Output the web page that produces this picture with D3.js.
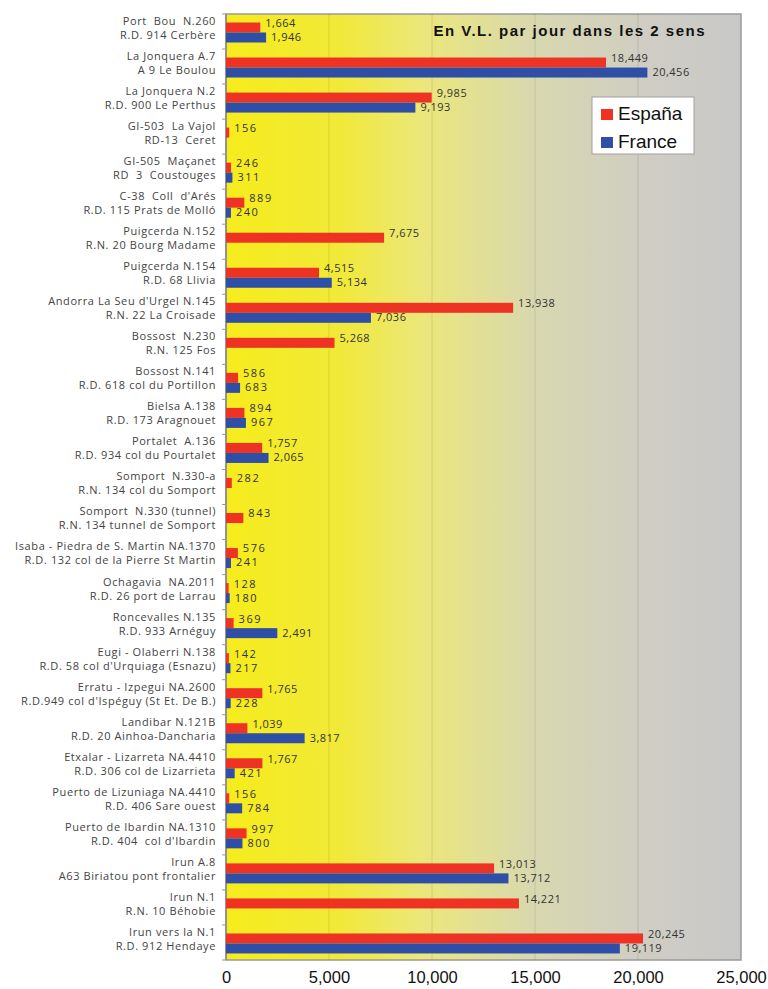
<!DOCTYPE html>
<html>
<head>
<meta charset="utf-8">
<script src="https://cdn.jsdelivr.net/npm/d3@7"></script>
<style>
  body { margin: 0; background: #fff; }
  svg { display: block; }
  text { white-space: pre; }
</style>
</head>
<body>
<svg id="chart"></svg>
<script>
var width = 768, height = 989
var margin = {top: 14, right: 27, bottom: 29, left: 226}

// two text lines per crossing: Spanish side / French side
const crossings = [
  ["Port  Bou  N.260", "R.D. 914 Cerbère"],
  ["La Jonquera A.7", "A 9 Le Boulou"],
  ["La Jonquera N.2", "R.D. 900 Le Perthus"],
  ["GI-503  La Vajol", "RD-13  Ceret"],
  ["GI-505  Maçanet", "RD  3  Coustouges"],
  ["C-38  Coll  d'Arés", "R.D. 115 Prats de Molló"],
  ["Puigcerda N.152", "R.N. 20 Bourg Madame"],
  ["Puigcerda N.154", "R.D. 68 Llivia"],
  ["Andorra La Seu d'Urgel N.145", "R.N. 22 La Croisade"],
  ["Bossost  N.230", "R.N. 125 Fos"],
  ["Bossost N.141", "R.D. 618 col du Portillon"],
  ["Bielsa A.138", "R.D. 173 Aragnouet"],
  ["Portalet  A.136", "R.D. 934 col du Pourtalet"],
  ["Somport  N.330-a", "R.N. 134 col du Somport"],
  ["Somport  N.330 (tunnel)", "R.N. 134 tunnel de Somport"],
  ["Isaba - Piedra de S. Martin NA.1370", "R.D. 132 col de la Pierre St Martin"],
  ["Ochagavia  NA.2011", "R.D. 26 port de Larrau"],
  ["Roncevalles N.135", "R.D. 933 Arnéguy"],
  ["Eugi - Olaberri N.138", "R.D. 58 col d'Urquiaga (Esnazu)"],
  ["Erratu - Izpegui NA.2600", "R.D.949 col d'Ispéguy (St Et. De B.)"],
  ["Landibar N.121B", "R.D. 20 Ainhoa-Dancharia"],
  ["Etxalar - Lizarreta NA.4410", "R.D. 306 col de Lizarrieta"],
  ["Puerto de Lizuniaga NA.4410", "R.D. 406 Sare ouest"],
  ["Puerto de Ibardin NA.1310", "R.D. 404  col d'Ibardin"],
  ["Irun A.8", "A63 Biriatou pont frontalier"],
  ["Irun N.1", "R.N. 10 Béhobie"],
  ["Irun vers la N.1", "R.D. 912 Hendaye"]
]
const espana = [1664, 18449, 9985, 156, 246, 889, 7675, 4515, 13938, 5268, 586, 894, 1757, 282, 843,
  576, 128, 369, 142, 1765, 1039, 1767, 156, 997, 13013, 14221, 20245]
const france = [1946, 20456, 9193, null, 311, 240, null, 5134, 7036, null, 683, 967, 2065, null, null,
  241, 180, 2491, 217, 228, 3817, 421, 784, 800, 13712, null, 19119]
const seriesNames = ["España", "France"]
const seriesColors = ["#ee3324", "#2f4fa6"]
const xTicks = [0, 5000, 10000, 15000, 20000, 25000]
const title = "En V.L. par jour dans les 2 sens"

document.addEventListener('DOMContentLoaded', function () {
    var svg = d3.select("#chart").attr("width", width).attr("height", height)

    var x = d3.scaleLinear().domain([0, 25000]).range([margin.left, width - margin.right])
    var y = d3.scaleBand().domain(d3.range(crossings.length)).range([margin.top, height - margin.bottom])
    var ySub = d3.scaleBand().domain(seriesNames).range([8.5, 28.5])

    // background gradient yellow -> gray
    var grad = svg.append("defs").append("linearGradient").attr("id", "bg")
        .attr("x1", "0%").attr("x2", "100%").attr("y1", "0%").attr("y2", "0%")
    grad.append("stop").attr("offset", "0%").attr("stop-color", "#f6ec1c")
    grad.append("stop").attr("offset", "22%").attr("stop-color", "#f1e938")
    grad.append("stop").attr("offset", "38%").attr("stop-color", "#ebe77a")
    grad.append("stop").attr("offset", "60%").attr("stop-color", "#d8d8b0")
    grad.append("stop").attr("offset", "82%").attr("stop-color", "#cfcdc3")
    grad.append("stop").attr("offset", "100%").attr("stop-color", "#c8c8c8")

    svg.append("rect")
        .attr("x", x(0)).attr("y", margin.top)
        .attr("width", x(25000) - x(0)).attr("height", y.range()[1] - margin.top)
        .attr("fill", "url(#bg)")
        .attr("stroke", "#9a9a9a").attr("stroke-width", 1.5)

    // vertical grid lines
    svg.append("g").selectAll("line")
        .data(xTicks.slice(1, -1))
        .enter().append("line")
        .attr("x1", d => x(d)).attr("x2", d => x(d))
        .attr("y1", margin.top).attr("y2", y.range()[1])
        .attr("stroke", "#000").attr("stroke-opacity", 0.09).attr("stroke-width", 1.2)

    // x axis labels
    svg.append("g")
        .attr("transform", "translate(0," + y.range()[1] + ")")
        .call(d3.axisBottom(x).tickValues(xTicks).tickFormat(d3.format(",")).tickSize(0).tickPadding(11))
        .call(g => g.select(".domain").remove())
        .selectAll("text")
        .style("font-family", "Liberation Sans, Arial, sans-serif")
        .style("font-size", "16.5px")
        .attr("fill", "#111")

    // left axis with ticks at band boundaries
    var yAxis = svg.append("g")
    yAxis.append("line")
        .attr("x1", x(0)).attr("x2", x(0))
        .attr("y1", margin.top).attr("y2", y.range()[1])
        .attr("stroke", "#8a8a8a").attr("stroke-width", 1.5)
    yAxis.selectAll(".tk")
        .data(d3.range(crossings.length + 1))
        .enter().append("line")
        .attr("x1", x(0) - 4).attr("x2", x(0))
        .attr("y1", d => margin.top + d * y.bandwidth())
        .attr("y2", d => margin.top + d * y.bandwidth())
        .attr("stroke", "#999")

    // category labels
    var labels = svg.append("g")
        .style("font-family", "Open Sans, sans-serif")
        .style("font-size", "11px")
        .style("letter-spacing", "0.6px")
        .attr("fill", "#444")
    crossings.forEach((c, i) => {
        labels.append("text")
            .attr("x", x(0) - 10).attr("y", y(i) + 8)
            .attr("dominant-baseline", "middle").attr("text-anchor", "end")
            .text(c[0])
        labels.append("text")
            .attr("x", x(0) - 10).attr("y", y(i) + 22)
            .attr("dominant-baseline", "middle").attr("text-anchor", "end")
            .text(c[1])
    })

    // bars and value labels
    var rows = [espana, france]
    var labelShift = [-3.5, 0.5]
    rows.forEach((vals, s) => {
        var data = vals.map((v, i) => ({i: i, v: v})).filter(d => d.v != null)
        var g = svg.append("g")
        g.selectAll("rect")
            .data(data)
            .enter().append("rect")
            .attr("x", x(0))
            .attr("y", d => y(d.i) + ySub(seriesNames[s]))
            .attr("width", d => x(d.v) - x(0))
            .attr("height", ySub.bandwidth())
            .attr("fill", seriesColors[s])
        g.selectAll("text")
            .data(data)
            .enter().append("text")
            .attr("x", d => x(d.v) + 5)
            .attr("y", d => y(d.i) + ySub(seriesNames[s]) + ySub.bandwidth() / 2 + labelShift[s])
            .attr("dominant-baseline", "middle")
            .style("font-family", "Open Sans, sans-serif")
            .style("font-size", "11px")
            .style("letter-spacing", d => d.v < 1000 ? "1.5px" : "0.5px")
            .attr("fill", "#333")
            .text(d => d3.format(",")(d.v))
    })

    // title
    svg.append("text")
        .attr("x", 706).attr("y", 36)
        .attr("text-anchor", "end")
        .style("font-family", "Liberation Sans, Arial, sans-serif")
        .style("font-size", "15px").style("font-weight", "bold")
        .style("letter-spacing", "1.5px")
        .attr("fill", "#111")
        .text(title)

    // legend
    var lg = svg.append("g").attr("transform", "translate(592,97)")
    lg.append("rect").attr("width", 102).attr("height", 57)
        .attr("fill", "#fff").attr("stroke", "#a0a0a0")
    seriesNames.forEach((n, k) => {
        lg.append("rect").attr("x", 9).attr("y", 12 + k * 28).attr("width", 12).attr("height", 11)
            .attr("fill", seriesColors[k])
        lg.append("text").attr("x", 26).attr("y", 23 + k * 28)
            .style("font-family", "Liberation Sans, Arial, sans-serif")
            .style("font-size", "19px")
            .attr("fill", "#111")
            .text(n)
    })
})
</script>
</body>
</html>
